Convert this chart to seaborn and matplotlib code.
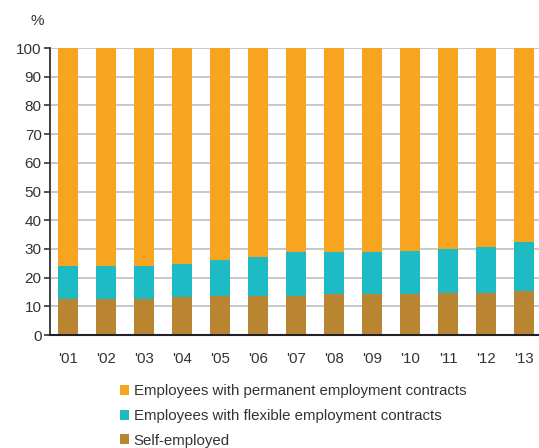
import numpy as np
import pandas as pd
import matplotlib
matplotlib.use("Agg")
import matplotlib.pyplot as plt
from matplotlib.patches import Patch
import seaborn as sns

# ---- data (share of employed, %) ----
years = ["'01", "'02", "'03", "'04", "'05", "'06", "'07", "'08", "'09", "'10", "'11", "'12", "'13"]
self_employed = [12.4, 12.4, 12.4, 13.1, 13.6, 13.6, 13.6, 14.2, 14.2, 14.2, 14.7, 14.7, 15.3]
flexible = [11.7, 11.7, 11.7, 11.7, 12.4, 13.5, 15.2, 14.6, 14.6, 15.2, 15.3, 15.9, 17.0]
permanent = [75.9, 75.9, 75.9, 75.2, 74.0, 72.9, 71.2, 71.2, 71.2, 70.6, 70.0, 69.4, 67.7]

series_names = ["Employees with permanent employment contracts",
                "Employees with flexible employment contracts",
                "Self-employed"]
colors = ["#F7A520", "#1EBBC5", "#B98533"]

sns.set_style("white")
plt.rcParams["font.family"] = ["Liberation Sans", "DejaVu Sans"]

df = pd.DataFrame({"year": years,
                   "self": self_employed,
                   "flex": flexible,
                   "perm": permanent})
df["top_flex"] = df["self"] + df["flex"]
df["top_perm"] = df["top_flex"] + df["perm"]

fig = plt.figure(figsize=(5.39, 4.48), dpi=100)
ax = fig.add_axes([0.0928, 0.2522, 0.9072, 0.6406])

# layered bars: tallest first
for col, c in zip(["top_perm", "top_flex", "self"], colors):
    sns.barplot(data=df, x="year", y=col, color=c, width=0.53,
                saturation=1, ax=ax, zorder=3, linewidth=0)

ax.set_ylim(0, 100)
ax.set_xlim(-0.474, 12.39)
ax.set_yticks(range(0, 101, 10))
ax.yaxis.grid(True, color="#c4c4c4", linewidth=1.3, zorder=0)
ax.set_axisbelow(True)
ax.set_xlabel("")
ax.set_ylabel("")

for s in ["top", "right"]:
    ax.spines[s].set_visible(False)
ax.spines["left"].set_color("#333333")
ax.spines["bottom"].set_color("#222222")
ax.spines["left"].set_linewidth(1.3)
ax.spines["bottom"].set_linewidth(1.5)
ax.spines["bottom"].set_zorder(5)
ax.spines["left"].set_zorder(5)
ax.tick_params(axis="y", length=4, width=1.2, color="#333333",
               labelsize=11, labelcolor="#333333", pad=2, left=True)
ax.tick_params(axis="x", length=0, labelsize=10.8, labelcolor="#333333", pad=12)

fig.text(37 / 539, 1 - 21 / 448, "%", fontsize=11, color="#333333",
         ha="center", va="center")

handles = [Patch(facecolor=c, edgecolor="none") for c in colors]
fig.legend(handles, series_names, loc="upper left",
           bbox_to_anchor=(112 / 539, 1 - 377 / 448), frameon=False,
           fontsize=10.8, handlelength=0.65, handleheight=0.65,
           handletextpad=0.3, labelspacing=0.7, borderpad=0,
           labelcolor="#333333")

fig.savefig("out.png", dpi=100)
